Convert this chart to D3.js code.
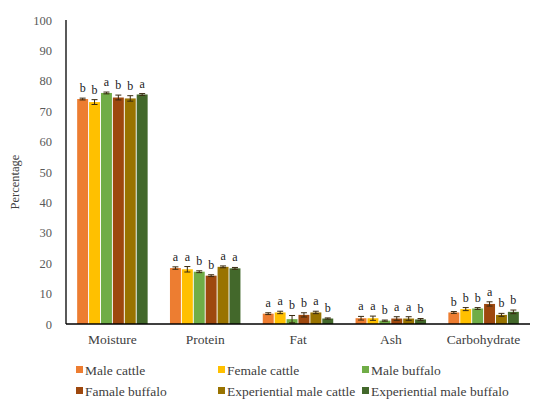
<!DOCTYPE html>
<html>
<head>
<meta charset="utf-8">
<script src="https://cdn.jsdelivr.net/npm/d3@7"></script>
<style>
  body { margin: 0; background: #fff; }
  svg text { font-family: "Liberation Serif", "DejaVu Serif", "Times New Roman", Times, serif !important; }
</style>
</head>
<body>
<div id="chart"></div>
<script>
const categories = ["Moisture", "Protein", "Fat", "Ash", "Carbohydrate"];
const seriesNames = ["Male cattle", "Female cattle", "Male buffalo", "Famale buffalo", "Experiential male cattle", "Experiential male buffalo"];
const colors = ["#ED7D31", "#FFC000", "#70AD47", "#9E480E", "#997300", "#43682B"];

// values per series, in category order
const maleCattle = [74.0, 18.4, 3.4, 1.9, 3.8];
const femaleCattle = [73.0, 18.0, 3.8, 1.9, 4.9];
const maleBuffalo = [76.0, 17.2, 1.6, 1.1, 5.1];
const femaleBuffalo = [74.5, 15.9, 3.0, 1.8, 6.6];
const expMaleCattle = [74.2, 18.8, 3.8, 1.8, 3.0];
const expMaleBuffalo = [75.5, 18.3, 1.8, 1.5, 4.0];
const values = [maleCattle, femaleCattle, maleBuffalo, femaleBuffalo, expMaleCattle, expMaleBuffalo];

const errors = [
  [0.3, 0.4, 0.3, 0.6, 0.3],
  [0.8, 0.9, 0.4, 0.7, 0.5],
  [0.3, 0.3, 1.2, 0.2, 0.3],
  [0.8, 0.3, 0.7, 0.6, 0.7],
  [0.9, 0.3, 0.4, 0.6, 0.5],
  [0.3, 0.3, 0.2, 0.3, 0.6]
];
const letters = [
  ["b", "a", "a", "a", "b"],
  ["b", "a", "a", "a", "b"],
  ["a", "b", "b", "b", "b"],
  ["b", "b", "b", "a", "a"],
  ["b", "a", "a", "a", "b"],
  ["a", "a", "b", "b", "b"]
];
const yTicks = [0, 10, 20, 30, 40, 50, 60, 70, 80, 90, 100];
const fontFam = '"Liberation Serif", "DejaVu Serif", "Times New Roman", serif';

const margin = {top: 20, right: 6, bottom: 81, left: 66};
const W = 536, H = 405;
const width = W - margin.left - margin.right;
const height = H - margin.top - margin.bottom;

const svg = d3.select("#chart").append("svg")
    .attr("width", W)
    .attr("height", H)
    .attr("font-family", fontFam);
const g = svg.append("g")
    .attr("transform", `translate(${margin.left}, ${margin.top})`);

const x0 = d3.scaleBand().domain(categories).range([0, width]).paddingInner(0.22).paddingOuter(0.11);
const x1 = d3.scaleBand().domain(d3.range(seriesNames.length)).range([0, x0.bandwidth()]).padding(0.08);
const y = d3.scaleLinear().domain([0, 100]).range([height, 0]);

// y axis labels
g.append("g")
    .call(d3.axisLeft(y).tickValues(yTicks).tickSize(0).tickPadding(14))
    .attr("font-family", fontFam)
    .call(a => a.select(".domain").remove())
    .selectAll("text")
    .style("font-size", "12.5px")
    .attr("fill", "#595959");

g.append("line")
    .attr("x1", 0).attr("x2", 0)
    .attr("y1", y(100)).attr("y2", y(0))
    .attr("stroke", "#000").attr("stroke-width", 1.3);

const groups = g.selectAll(".cat")
    .data(categories)
    .join("g")
    .attr("transform", d => `translate(${x0(d)},0)`);

groups.each(function(cat, ci) {
  const grp = d3.select(this);
  seriesNames.forEach((s, si) => {
    const v = values[si][ci];
    const e = errors[si][ci];
    const bx = x1(si);
    const bw = x1.bandwidth();
    grp.append("rect")
        .attr("x", bx).attr("width", bw)
        .attr("y", y(v)).attr("height", y(0) - y(v))
        .attr("fill", colors[si]);
    const cx = bx + bw / 2;
    grp.append("line")
        .attr("x1", cx).attr("x2", cx)
        .attr("y1", y(v + e)).attr("y2", y(Math.max(0, v - e)))
        .attr("stroke", "#3a2a10").attr("stroke-width", 1);
    [v + e, Math.max(0, v - e)].forEach(t => {
      grp.append("line")
          .attr("x1", cx - 3).attr("x2", cx + 3)
          .attr("y1", y(t)).attr("y2", y(t))
          .attr("stroke", "#3a2a10").attr("stroke-width", 1);
    });
    grp.append("text")
        .attr("x", cx)
        .attr("y", y(v + e) - 6)
        .attr("text-anchor", "middle")
        .style("font-size", "12px")
        .attr("fill", "#222")
        .text(letters[si][ci]);
  });
});

g.append("line")
    .attr("x1", 0).attr("x2", width)
    .attr("y1", y(0)).attr("y2", y(0))
    .attr("stroke", "#000").attr("stroke-width", 1.3);

// x axis labels
g.append("g")
    .attr("transform", `translate(0, ${height})`)
    .call(d3.axisBottom(x0).tickSize(0).tickPadding(10))
    .attr("font-family", fontFam)
    .call(a => a.select(".domain").remove())
    .selectAll("text")
    .style("font-size", "13.5px")
    .attr("fill", "#404040");

// y title
svg.append("text")
    .attr("transform", `translate(19, ${margin.top + height / 2 + 10}) rotate(-90)`)
    .attr("text-anchor", "middle")
    .style("font-size", "12.5px")
    .attr("fill", "#404040")
    .text("Percentage");

// legend
const legendX = [76, 218, 362];
const legendY = [370, 391];
const legend = svg.selectAll(".leg")
    .data(seriesNames)
    .join("g")
    .attr("transform", (d, i) => `translate(${legendX[i % 3]}, ${legendY[Math.floor(i / 3)]})`);
legend.append("rect")
    .attr("x", 0).attr("y", -4)
    .attr("width", 7).attr("height", 7)
    .attr("fill", (d, i) => colors[i]);
legend.append("text")
    .attr("x", 9).attr("y", 0)
    .attr("dy", "0.35em")
    .style("font-size", "13.5px")
    .attr("fill", "#404040")
    .text(d => d);
</script>
</body>
</html>
